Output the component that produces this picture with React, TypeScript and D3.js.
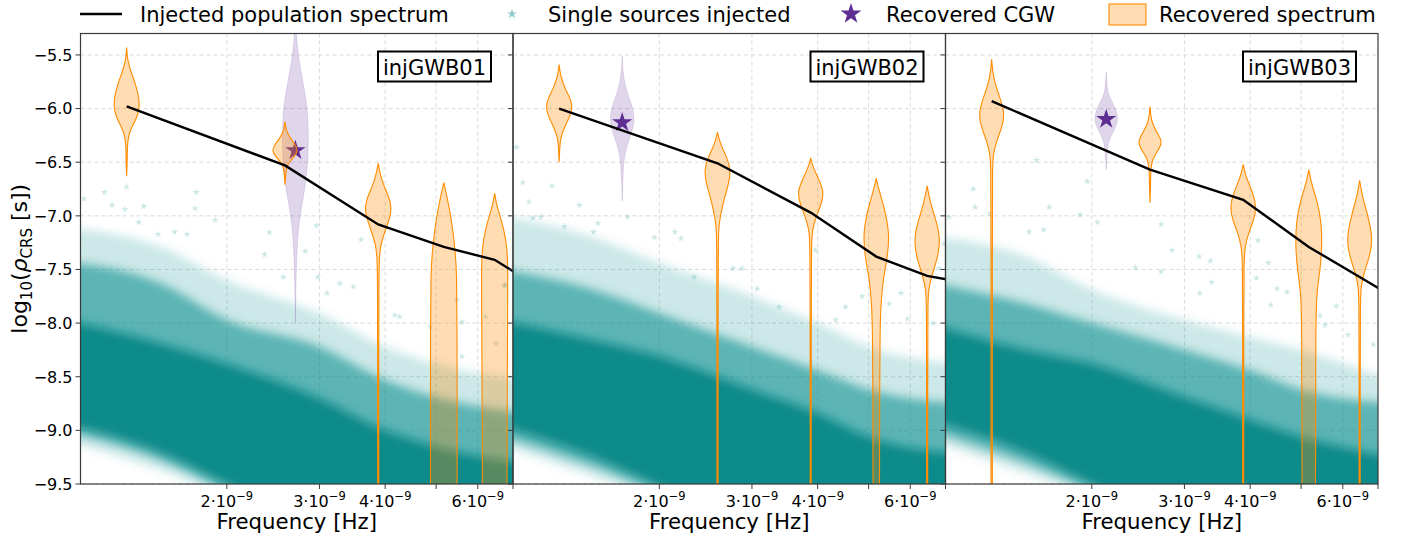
import React from "react";
import * as d3 from "d3";

// ---------------- data (frequencies in units of 1e-9 Hz) ----------------
const PANEL_NAMES = ["injGWB01", "injGWB02", "injGWB03"];
const FREQS = [1.29, 2.58, 3.88, 5.17, 6.46, 7.75];
const X_TICKS = [2, 3, 4, 5, 6, 7];
const X_TICK_LABELS = ["2", "3", "4", "", "6", ""];
const Y_TICKS = [-9.5, -9.0, -8.5, -8.0, -7.5, -7.0, -6.5, -6.0, -5.5];

const SPECTRUM_01 = [-5.98, -6.53, -7.08, -7.29, -7.41, -7.65];
const SPECTRUM_02 = [-6.0, -6.51, -6.97, -7.38, -7.56, -7.63];
const SPECTRUM_03 = [-5.93, -6.57, -6.85, -7.29, -7.57, -7.8];

const CGW_FREQ = [2.7, 1.7, 2.13];
const CGW_VALUE = [-6.39, -6.13, -6.1];

// violins: [log10 rho, relative density]
const CGW_VIOLIN_01 = [[-5.22, 0.03], [-5.45, 0.15], [-5.6, 0.35], [-5.74, 0.55], [-5.9, 0.78], [-6.05, 0.94], [-6.36, 1.0], [-6.67, 0.83], [-6.88, 0.5], [-7.13, 0.2], [-7.38, 0.1], [-7.6, 0.05], [-8.0, 0]];
const CGW_VIOLIN_02 = [[-5.51, 0], [-5.67, 0.05], [-5.83, 0.3], [-5.95, 0.7], [-6.11, 1.0], [-6.26, 0.6], [-6.39, 0.25], [-6.51, 0.1], [-6.67, 0.05], [-6.86, 0]];
const CGW_VIOLIN_03 = [[-5.66, 0], [-5.75, 0.04], [-5.86, 0.12], [-5.95, 0.5], [-6.09, 1.0], [-6.2, 0.6], [-6.29, 0.2], [-6.39, 0.08], [-6.57, 0]];

const SPEC_VIOLINS_01 = [
  [[-5.43, 0], [-5.5, 0.04], [-5.56, 0.1], [-5.65, 0.3], [-5.74, 0.58], [-5.85, 0.85], [-5.97, 1.0], [-6.08, 0.8], [-6.17, 0.38], [-6.26, 0.12], [-6.36, 0.05], [-6.5, 0.04], [-6.63, 0]],
  [[-6.12, 0], [-6.2, 0.08], [-6.27, 0.35], [-6.33, 0.75], [-6.39, 1.0], [-6.45, 0.7], [-6.5, 0.3], [-6.55, 0.1], [-6.62, 0.05], [-6.71, 0]],
  [[-6.51, 0], [-6.6, 0.12], [-6.73, 0.45], [-6.82, 0.8], [-6.92, 1.0], [-7.01, 0.9], [-7.13, 0.55], [-7.26, 0.2], [-7.38, 0.08], [-7.6, 0.05], [-8.5, 0.04], [-9.8, 0.04]],
  [[-6.69, 0], [-6.8, 0.2], [-6.95, 0.45], [-7.13, 0.68], [-7.35, 0.88], [-7.55, 0.97], [-8.0, 1.0], [-9.0, 1.0], [-9.8, 1.0]],
  [[-6.79, 0], [-6.9, 0.15], [-7.0, 0.4], [-7.13, 0.7], [-7.29, 0.93], [-7.5, 1.0], [-8.0, 0.97], [-9.0, 0.93], [-9.8, 0.92]],
];
const SPEC_VIOLINS_02 = [
  [[-5.59, 0], [-5.7, 0.1], [-5.83, 0.5], [-5.92, 0.9], [-6.0, 1.0], [-6.09, 0.75], [-6.2, 0.3], [-6.29, 0.08], [-6.39, 0.04], [-6.5, 0]],
  [[-6.22, 0], [-6.33, 0.2], [-6.45, 0.7], [-6.57, 1.0], [-6.7, 0.85], [-6.82, 0.55], [-6.95, 0.3], [-7.07, 0.12], [-7.2, 0.05], [-8.0, 0.04], [-9.8, 0.04]],
  [[-6.46, 0], [-6.54, 0.15], [-6.67, 0.65], [-6.78, 1.0], [-6.89, 0.8], [-7.01, 0.4], [-7.13, 0.12], [-7.26, 0.05], [-8.0, 0.04], [-9.8, 0.04]],
  [[-6.65, 0], [-6.76, 0.2], [-6.92, 0.6], [-7.16, 1.0], [-7.38, 0.85], [-7.6, 0.5], [-7.82, 0.35], [-8.07, 0.28], [-8.69, 0.25], [-9.5, 0.25], [-9.8, 0.22]],
  [[-6.72, 0], [-6.89, 0.25], [-7.07, 0.75], [-7.24, 1.0], [-7.41, 0.75], [-7.57, 0.3], [-7.69, 0.1], [-7.82, 0.05], [-8.5, 0.04], [-9.8, 0.04]],
];
const SPEC_VIOLINS_03 = [
  [[-5.54, 0], [-5.7, 0.1], [-5.86, 0.5], [-6.03, 1.0], [-6.17, 0.8], [-6.29, 0.4], [-6.42, 0.12], [-6.54, 0.06], [-7.0, 0.05], [-9.8, 0.05]],
  [[-5.98, 0], [-6.11, 0.08], [-6.2, 0.4], [-6.31, 1.0], [-6.4, 0.55], [-6.48, 0.15], [-6.57, 0.06], [-6.7, 0.04], [-6.88, 0]],
  [[-6.52, 0], [-6.64, 0.2], [-6.79, 0.75], [-6.92, 1.0], [-7.04, 0.8], [-7.16, 0.4], [-7.29, 0.12], [-7.45, 0.05], [-8.0, 0.04], [-9.8, 0.04]],
  [[-6.57, 0], [-6.7, 0.2], [-6.89, 0.7], [-7.07, 0.95], [-7.29, 1.0], [-7.51, 0.85], [-7.72, 0.58], [-8.07, 0.52], [-9.0, 0.52], [-9.8, 0.5]],
  [[-6.67, 0], [-6.82, 0.2], [-7.01, 0.65], [-7.22, 1.0], [-7.38, 0.75], [-7.54, 0.3], [-7.66, 0.1], [-7.8, 0.05], [-8.5, 0.04], [-9.8, 0.04]],
];

// single-source cloud, read as density bands at these frequencies
const BAND_F = [0.95, 1.5, 2, 3, 4, 5, 7.4];
const P1_OUTER_TOP = [-7.1, -7.29, -7.6, -7.91, -8.22, -8.38, -8.53];
const P1_MID_TOP = [-7.42, -7.63, -7.97, -8.22, -8.53, -8.69, -8.84];
const P1_CORE_TOP = [-7.95, -8.19, -8.38, -8.7, -9.0, -9.15, -9.31];
const P1_CORE_BOT = [-8.92, -9.21, -9.5, -9.9, -9.9, -9.9, -9.9];
const P1_MID_BOT = [-8.99, -9.28, -9.56, -9.9, -9.9, -9.9, -9.9];
const P1_OUTER_BOT = [-9.08, -9.37, -9.62, -9.9, -9.9, -9.9, -9.9];

const P2_OUTER_TOP = [-6.98, -7.2, -7.44, -7.75, -8.0, -8.22, -8.38];
const P2_MID_TOP = [-7.48, -7.69, -7.91, -8.22, -8.44, -8.62, -8.75];
const P2_CORE_TOP = [-7.95, -8.16, -8.31, -8.62, -8.84, -9.06, -9.22];
const P2_CORE_BOT = [-8.92, -9.25, -9.52, -9.9, -9.9, -9.9, -9.9];
const P2_MID_BOT = [-9.02, -9.34, -9.58, -9.9, -9.9, -9.9, -9.9];
const P2_OUTER_BOT = [-9.1, -9.43, -9.65, -9.9, -9.9, -9.9, -9.9];

const P3_OUTER_TOP = [-7.18, -7.38, -7.69, -7.97, -8.13, -8.25, -8.53];
const P3_MID_TOP = [-7.6, -7.82, -8.0, -8.25, -8.44, -8.62, -8.75];
const P3_CORE_TOP = [-7.98, -8.25, -8.38, -8.69, -8.9, -9.06, -9.25];
const P3_CORE_BOT = [-8.88, -9.21, -9.5, -9.9, -9.9, -9.9, -9.9];
const P3_MID_BOT = [-8.98, -9.31, -9.56, -9.9, -9.9, -9.9, -9.9];
const P3_OUTER_BOT = [-9.07, -9.4, -9.62, -9.9, -9.9, -9.9, -9.9];

// scattered outlying single sources [freq, log10 rho]
const OUTLIERS_01 = [[1.29, -6.73], [1.17, -6.78], [1.21, -6.9], [1.28, -6.94], [1.39, -6.91], [1.75, -6.78], [1.74, -6.93], [1.07, -6.84], [1.36, -7.06], [1.9, -7.04], [2.41, -7.155], [2.96, -7.09], [2.82, -7.33], [2.36, -7.36], [3.6, -7.22], [2.56, -7.57], [2.98, -7.57], [3.28, -7.63], [3.48, -7.66], [3.1, -7.72], [4.17, -7.925], [4.26, -7.94], [5.47, -7.78], [6.74, -7.65], [1.59, -7.15], [1.68, -7.17], [1.48, -7.17], [5.6, -7.99], [6.21, -7.94], [6.77, -7.645], [6.5, -8.19], [5.6, -8.31], [4.87, -8.03]];
const OUTLIERS_02 = [[1.07, -6.36], [1.1, -6.69], [1.25, -6.72], [1.13, -6.87], [1.41, -6.9], [1.15, -7.02], [1.19, -7.01], [1.74, -7.01], [1.32, -7.1], [1.5, -7.15], [1.53, -7.07], [2.14, -7.15], [2.2, -7.21], [1.96, -7.2], [2.76, -7.49], [2.87, -7.49], [2.33, -7.57], [3.07, -7.68], [3.96, -7.32], [3.38, -7.85], [4.52, -7.85], [4.86, -7.75], [5.76, -7.72], [6.63, -8.0], [5.93, -7.96], [6.95, -7.26], [6.8, -7.49], [5.47, -7.82], [4.33, -7.97]];
const OUTLIERS_03 = [[1.57, -6.48], [1.19, -6.75], [1.96, -6.68], [1.2, -6.92], [1.66, -6.92], [1.9, -6.99], [1.28, -6.98], [1.07, -7.01], [2.05, -7.06], [2.71, -7.08], [1.52, -7.15], [1.62, -7.13], [2.84, -7.32], [3.2, -7.38], [3.36, -7.42], [4.14, -7.23], [4.33, -7.44], [4.5, -7.68], [4.7, -7.71], [3.38, -7.62], [3.21, -7.72], [2.71, -7.52], [2.42, -7.48], [5.43, -7.93], [6.14, -8.11], [5.55, -8.02], [5.83, -7.84], [6.86, -8.2], [4.11, -7.58], [4.38, -7.83]];

const PANELS = [
  { spectrum: SPECTRUM_01, violins: SPEC_VIOLINS_01, cgw: CGW_VIOLIN_01, outliers: OUTLIERS_01,
    bands: [P1_OUTER_TOP, P1_MID_TOP, P1_CORE_TOP, P1_CORE_BOT, P1_MID_BOT, P1_OUTER_BOT] },
  { spectrum: SPECTRUM_02, violins: SPEC_VIOLINS_02, cgw: CGW_VIOLIN_02, outliers: OUTLIERS_02,
    bands: [P2_OUTER_TOP, P2_MID_TOP, P2_CORE_TOP, P2_CORE_BOT, P2_MID_BOT, P2_OUTER_BOT] },
  { spectrum: SPECTRUM_03, violins: SPEC_VIOLINS_03, cgw: CGW_VIOLIN_03, outliers: OUTLIERS_03,
    bands: [P3_OUTER_TOP, P3_MID_TOP, P3_CORE_TOP, P3_CORE_BOT, P3_MID_BOT, P3_OUTER_BOT] },
];

// ---------------- layout & style ----------------
const W = 1408;
const H = 537;
const PLOT_TOP = 33.5;
const PLOT_BOTTOM = 484;
const PANEL_X0 = 80.5;
const PANEL_W = 432.5;
const X_MIN = 1.054e-9;
const X_MAX = 7.0e-9;
const Y_DOMAIN = [-9.5, -5.3];
const FONT = "DejaVu Sans, Verdana, sans-serif";
const TEAL = "#0b8a8a";
const ORANGE = "#ff8c00";
const PURPLE = "#663399";
const STAR_PURPLE = "#5e2e93";
const HW = 13.3;
const GRID = "#d0d0d0";
const SPINE = "#3a3a3a";

const yScale = d3.scaleLinear().domain(Y_DOMAIN).range([PLOT_BOTTOM, PLOT_TOP]);

function violinPath(points: number[][], cx: number) {
  return d3
    .area<number[]>()
    .y((d) => yScale(d[0]))
    .x0((d) => cx - d[1] * HW)
    .x1((d) => cx + d[1] * HW)
    .curve(d3.curveBasis)(points) as string;
}

function Panel({ idx }: { idx: number }) {
  const p = PANELS[idx];
  const left = PANEL_X0 + idx * PANEL_W;
  const right = left + PANEL_W;
  const x = d3.scaleLog().domain([X_MIN, X_MAX]).range([left, right]);
  const fx = (f: number) => x(f * 1e-9);
  const clipId = `clip-${idx}`;
  const [oT, mT, cT, cB, mB, oB] = p.bands;
  const band = (top: number[], bot: number[]) =>
    d3
      .area<number>()
      .x((f) => fx(f))
      .y1((_, i) => yScale(top[i]))
      .y0((_, i) => yScale(bot[i]))
      .curve(d3.curveMonotoneX)(BAND_F) as string;
  const line = d3
    .line<number>()
    .x((_, i) => fx(FREQS[i]))
    .y((v) => yScale(v))(p.spectrum) as string;
  const smallStar = d3.symbol(d3.symbolStar, 16)() as string;
  const bigStar = d3.symbol(d3.symbolStar, 125)() as string;

  return (
    <g>
      <defs>
        <clipPath id={clipId}>
          <rect x={left} y={PLOT_TOP} width={PANEL_W} height={PLOT_BOTTOM - PLOT_TOP} />
        </clipPath>
      </defs>
      {/* grid */}
      {Y_TICKS.map((t) => (
        <line key={"gy" + t} x1={left} x2={right} y1={yScale(t)} y2={yScale(t)} stroke={GRID} strokeWidth={0.8} strokeDasharray="4,3" />
      ))}
      {X_TICKS.slice(0, 5).map((t) => (
        <line key={"gx" + t} x1={fx(t)} x2={fx(t)} y1={PLOT_TOP} y2={PLOT_BOTTOM} stroke={GRID} strokeWidth={0.8} strokeDasharray="4,3" />
      ))}
      <g clipPath={`url(#${clipId})`}>
        {/* single-source cloud */}
        <g filter="url(#soft)">
          <path d={band(oT, oB)} fill={TEAL} fillOpacity={0.2} />
          <path d={band(mT, mB)} fill={TEAL} fillOpacity={0.55} />
          <path d={band(cT, cB)} fill={TEAL} fillOpacity={1} />
        </g>
        {p.outliers.map((d, i) => (
          <path key={"o" + i} d={smallStar} transform={`translate(${fx(d[0])},${yScale(d[1])})`} fill={TEAL} fillOpacity={0.2} />
        ))}
        {/* recovered CGW */}
        <path d={violinPath(p.cgw, fx(CGW_FREQ[idx]))} fill={PURPLE} fillOpacity={0.2} stroke={PURPLE} strokeOpacity={0.15} strokeWidth={1} />
        <path d={bigStar} transform={`translate(${fx(CGW_FREQ[idx])},${yScale(CGW_VALUE[idx])})`} fill={STAR_PURPLE} />
        {/* recovered spectrum */}
        {p.violins.map((v, i) => (
          <path key={"v" + i} d={violinPath(v, fx(FREQS[i]))} fill={ORANGE} fillOpacity={0.3} stroke={ORANGE} strokeWidth={1.1} />
        ))}
        {/* injected spectrum */}
        <path d={line} fill="none" stroke="#000" strokeWidth={2.4} />
      </g>
      {/* spines */}
      <rect x={left} y={PLOT_TOP} width={PANEL_W} height={PLOT_BOTTOM - PLOT_TOP} fill="none" stroke={SPINE} strokeWidth={1.2} />
      {/* y ticks */}
      {Y_TICKS.map((t) => (
        <g key={"yt" + t}>
          <line x1={left - 5} x2={left} y1={yScale(t)} y2={yScale(t)} stroke={SPINE} strokeWidth={1} />
          {idx === 0 && (
            <text x={left - 8} y={yScale(t) + 5.8} textAnchor="end" fontSize={16} fontFamily={FONT} fill="#000">
              {"\u2212" + Math.abs(t).toFixed(1)}
            </text>
          )}
        </g>
      ))}
      {/* x ticks */}
      {X_TICKS.map((t, i) => (
        <g key={"xt" + t}>
          <line x1={fx(t)} x2={fx(t)} y1={PLOT_BOTTOM} y2={PLOT_BOTTOM + 5} stroke={SPINE} strokeWidth={1} />
          {X_TICK_LABELS[i] && (
            <text x={fx(t)} y={507} textAnchor="middle" fontSize={16} fontFamily={FONT} fill="#000">
              <tspan>{X_TICK_LABELS[i] + "\u00b710"}</tspan>
              <tspan dy={-7.5} fontSize={11.5}>{"\u22129"}</tspan>
            </text>
          )}
        </g>
      ))}
      <text x={(left + right) / 2} y={529} textAnchor="middle" fontSize={21.3} fontFamily={FONT} fill="#000">
        Frequency [Hz]
      </text>
      {/* panel label */}
      <rect x={right - 135} y={51.5} width={113} height={30} fill="#fff" stroke="#000" strokeWidth={2} />
      <text x={right - 78.5} y={74.5} textAnchor="middle" fontSize={21} fontFamily={FONT} fill="#000">
        {PANEL_NAMES[idx]}
      </text>
    </g>
  );
}

function Legend() {
  const star1 = d3.symbol(d3.symbolStar, 30)() as string;
  const star2 = d3.symbol(d3.symbolStar, 135)() as string;
  const ty = 21.5;
  return (
    <g fontFamily={FONT} fontSize={21} fill="#000">
      <line x1={80} x2={122} y1={14} y2={14} stroke="#000" strokeWidth={2.4} />
      <text x={140} y={ty}>Injected population spectrum</text>
      <path d={star1} transform="translate(512,14)" fill={TEAL} fillOpacity={0.45} />
      <text x={548} y={ty}>Single sources injected</text>
      <path d={star2} transform="translate(851,14)" fill={STAR_PURPLE} />
      <text x={886} y={ty}>Recovered CGW</text>
      <rect x={1109} y={4} width={37} height={21} fill={ORANGE} fillOpacity={0.3} stroke={ORANGE} strokeWidth={1.1} />
      <text x={1159} y={ty}>Recovered spectrum</text>
    </g>
  );
}

export default function App() {
  return (
    <div style={{ position: "absolute", left: 0, top: 0 }}>
      <svg width={W} height={H} viewBox={`0 0 ${W} ${H}`} style={{ display: "block", background: "#fff" }}>
        <defs>
          <filter id="soft" x="-5%" y="-10%" width="110%" height="120%">
            <feGaussianBlur stdDeviation="5" />
          </filter>
        </defs>
        <rect x={0} y={0} width={W} height={H} fill="#fff" />
        <Legend />
        {PANELS.map((_, i) => (
          <Panel key={i} idx={i} />
        ))}
        <text
          transform={`translate(27,${(PLOT_TOP + PLOT_BOTTOM) / 2}) rotate(-90)`}
          textAnchor="middle"
          fontSize={22}
          fontFamily={FONT}
          fill="#000"
        >
          <tspan>log</tspan>
          <tspan dy={4.5} fontSize={15}>10</tspan>
          <tspan dy={-4.5}>(</tspan>
          <tspan fontStyle="italic">ρ</tspan>
          <tspan dy={4.5} fontSize={15}>CRS</tspan>
          <tspan dy={-4.5}> [s])</tspan>
        </text>
      </svg>
    </div>
  );
}
